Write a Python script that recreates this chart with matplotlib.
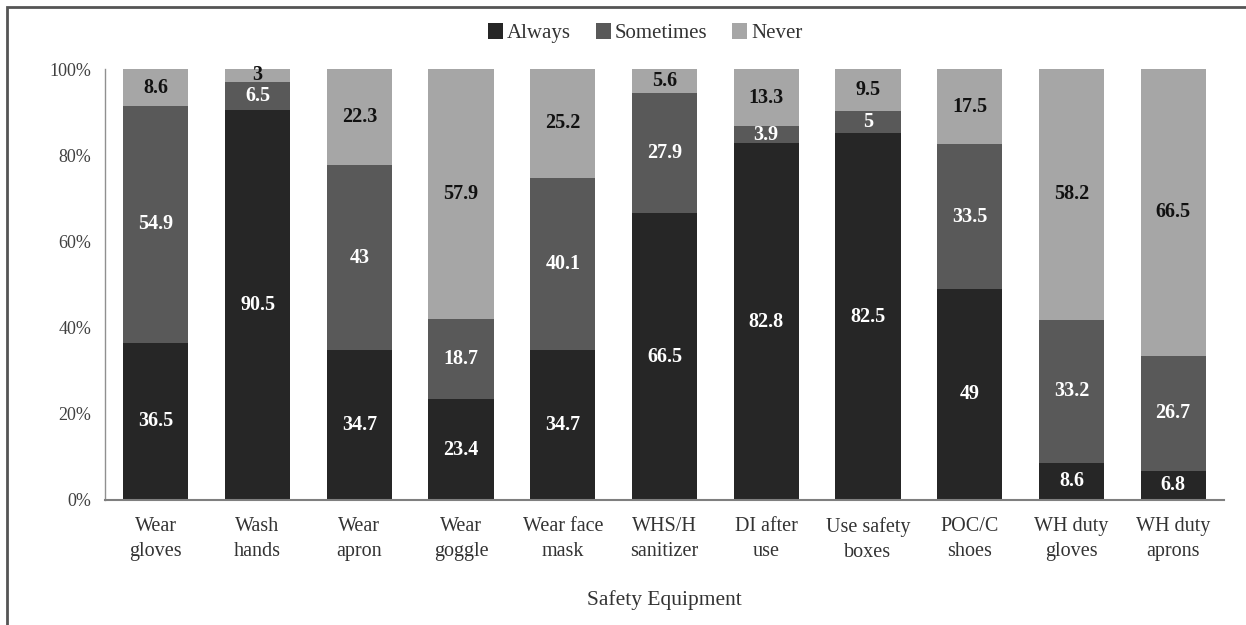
import matplotlib.pyplot as plt
import numpy as np
from matplotlib.patches import Rectangle

categories = ["Wear\ngloves", "Wash\nhands", "Wear\napron", "Wear\ngoggle", "Wear face\nmask",
              "WHS/H\nsanitizer", "DI after\nuse", "Use safety\nboxes", "POC/C\nshoes",
              "WH duty\ngloves", "WH duty\naprons"]
always = [36.5, 90.5, 34.7, 23.4, 34.7, 66.5, 82.8, 82.5, 49, 8.6, 6.8]
sometimes = [54.9, 6.5, 43, 18.7, 40.1, 27.9, 3.9, 5, 33.5, 33.2, 26.7]
never = [8.6, 3, 22.3, 57.9, 25.2, 5.6, 13.3, 9.5, 17.5, 58.2, 66.5]
series_names = ["Always", "Sometimes", "Never"]
colors = ["#262626", "#595959", "#a6a6a6"]
text_colors = ["white", "white", "#111111"]

plt.rcParams['font.family'] = ['Liberation Serif', 'DejaVu Serif']

raw = np.array([always, sometimes, never], dtype=float)
pct = raw / raw.sum(axis=0) * 100
x = np.arange(len(categories))

fig = plt.figure(figsize=(12.46, 6.25), dpi=100)
ax = fig.add_axes([105 / 1246, 1 - 500 / 625, (1224 - 105) / 1246, (500 - 69) / 625])

bottom = np.zeros(len(categories))
for i, name in enumerate(series_names):
    ax.bar(x, pct[i], 0.64, bottom=bottom, color=colors[i], label=name, zorder=2)
    for j in range(len(categories)):
        val = raw[i, j]
        ax.text(x[j], bottom[j] + pct[i, j] / 2, f"{val:g}", ha="center", va="center",
                color=text_colors[i], fontsize=14.5, fontweight="bold", zorder=3)
    bottom += pct[i]

ax.set_xlim(-0.5, len(categories) - 0.5)
ax.set_ylim(0, 100)
ax.set_yticks(np.arange(0, 101, 20))
ax.set_yticklabels([f"{v}%" for v in range(0, 101, 20)], fontsize=13, color="#404040")
ax.set_xticks(x)
ax.set_xticklabels(categories, fontsize=14.5, color="#333333", linespacing=1.45)
ax.tick_params(axis="both", length=0)
ax.tick_params(axis="y", pad=10)
ax.tick_params(axis="x", pad=12)
for s in ["top", "right"]:
    ax.spines[s].set_visible(False)
ax.spines["left"].set_color("#909090")
ax.spines["left"].set_linewidth(1.0)
ax.spines["bottom"].set_color("#7f7f7f")
ax.spines["bottom"].set_linewidth(1.5)
ax.set_xlabel("Safety Equipment", fontsize=15.5, color="#333333", labelpad=20)

ax.legend(loc="upper center", bbox_to_anchor=(0.483, 1.15), ncol=3, frameon=False,
          fontsize=15, handlelength=0.7, handleheight=0.8, handletextpad=0.2,
          columnspacing=1.2, labelcolor="#333333")

# outer frame of the original figure
fig.add_artist(Rectangle((7 / 1246, -0.1), 1.2, 1 - 7 / 625 + 0.1, transform=fig.transFigure,
                         fill=False, edgecolor="#555555", linewidth=2))

fig.savefig("out.png", dpi=100)
